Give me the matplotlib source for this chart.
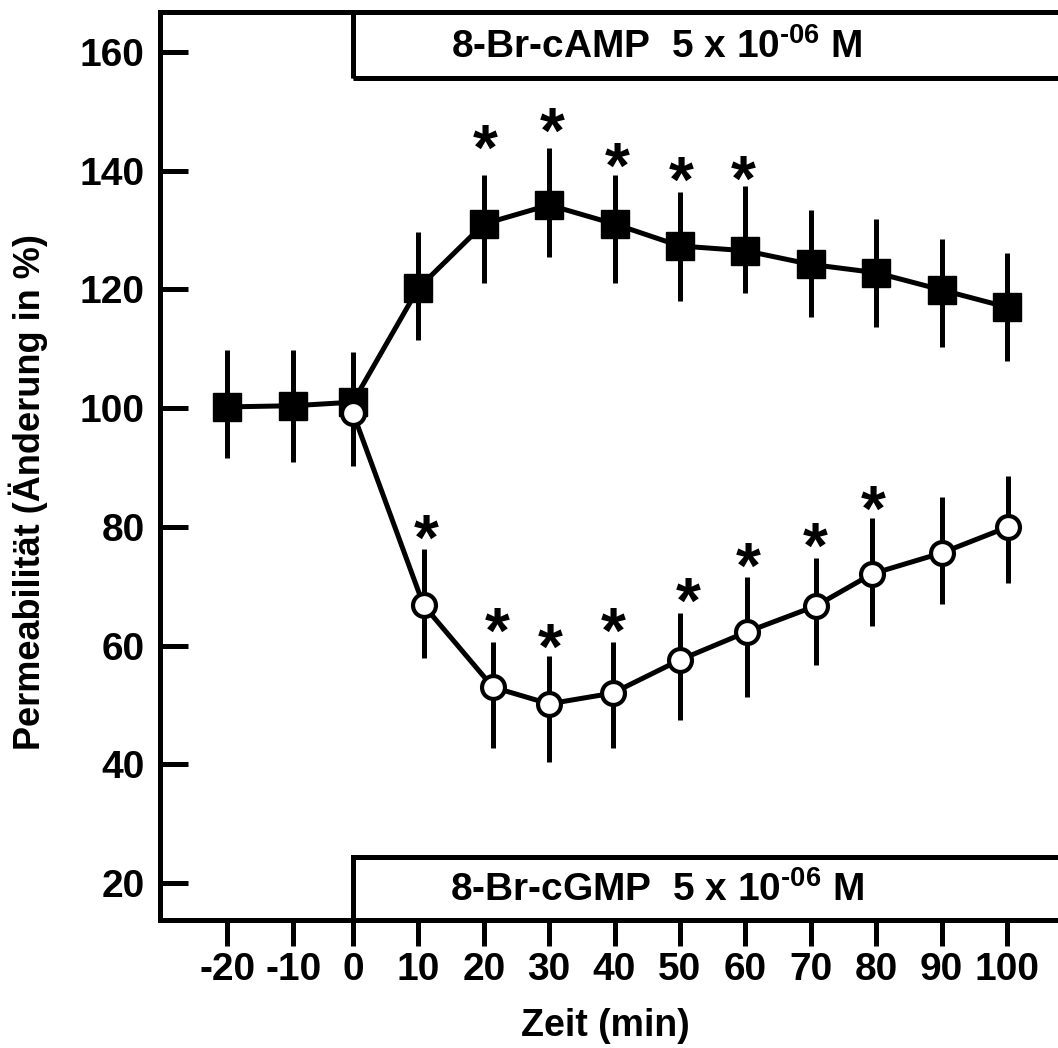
import matplotlib
matplotlib.use("Agg")
import matplotlib.pyplot as plt
from matplotlib.patches import Rectangle

plt.rcParams['font.family'] = ['Liberation Sans', 'DejaVu Sans']
plt.rcParams['font.weight'] = 'bold'
plt.rcParams['mathtext.fontset'] = 'custom'
plt.rcParams['mathtext.rm'] = 'Liberation Sans:bold'
plt.rcParams['mathtext.bf'] = 'Liberation Sans:bold'
plt.rcParams['mathtext.default'] = 'bf'

# 8-Br-cAMP (filled squares)
camp_x = [-19.2, -9.1, 0, 10, 20, 30, 40, 50, 60, 70, 80, 90, 100]
camp_y = [100.2, 100.4, 101.0, 120.2, 131.0, 134.2, 131.0, 127.3, 126.5, 124.2, 122.8, 119.9, 117.0]
camp_lo = [8.6, 9.5, 9.6, 8.7, 10.0, 8.7, 10.0, 9.3, 7.1, 8.8, 9.1, 9.6, 9.0]
camp_hi = [9.6, 9.4, 8.5, 9.5, 8.3, 9.6, 8.3, 9.1, 10.9, 9.2, 9.1, 8.6, 9.1]

# 8-Br-cGMP (open circles)
cgmp_x = [0, 10.8, 21.4, 30, 39.7, 50, 60.2, 70.8, 79.4, 90, 100.2]
cgmp_y = [99.2, 66.8, 53.0, 50.2, 52.0, 57.6, 62.3, 66.7, 72.1, 75.6, 80.0]
cgmp_lo = [9.0, 8.8, 10.3, 9.8, 9.3, 10.1, 11.0, 10.0, 8.8, 8.6, 9.5]
cgmp_hi = [9.0, 9.5, 7.6, 8.0, 8.6, 7.9, 9.3, 8.1, 9.4, 9.4, 8.6]

# significance stars
star_x = [20.2, 30.4, 40.4, 50.2, 59.7, 11.2, 22.0, 30.2, 39.8, 51.2, 60.5, 70.7, 79.6]
star_y = [145.2, 148.2, 142.3, 139.9, 140.1, 79.5, 64.0, 61.3, 64.0, 68.9, 74.9, 78.3, 84.5]

xticks = [-19.2, -9.1, 0, 10, 20, 30, 40, 50, 60, 70, 80, 90, 100]
xticklabels = ["-20", "-10", "0", "10", "20", "30", "40", "50", "60", "70", "80", "90", "100"]
yticks = [20, 40, 60, 80, 100, 120, 140, 160]

fig = plt.figure(figsize=(10.58, 10.48), dpi=100)
ax = fig.add_axes([160 / 1058, 128 / 1048, 1 - 160 / 1058, 908 / 1048])
ax.set_xlim(-29.5, 107.8)
ax.set_ylim(13.8, 166.7)

lw = 3.6
# treatment boxes
ax.add_patch(Rectangle((0, 155.6), 150, 30, fill=False, ec='black', lw=lw, clip_on=True))
ax.add_patch(Rectangle((0, 0), 150, 24.4, fill=False, ec='black', lw=lw, clip_on=True))
ax.text(0.553, 0.962, r"8-Br-cAMP  5 x 10$^{\text{-06}}$ M", transform=ax.transAxes,
        ha='center', va='center', fontsize=28, fontweight='bold')
ax.text(0.553, 0.033, r"8-Br-cGMP  5 x 10$^{\text{-06}}$ M", transform=ax.transAxes,
        ha='center', va='center', fontsize=28, fontweight='bold')

ax.errorbar(camp_x, camp_y, yerr=[camp_lo, camp_hi], fmt='s-', color='black',
            ms=19.5, mfc='black', mec='black', lw=lw, elinewidth=lw, capsize=0, zorder=3)
ax.errorbar(cgmp_x, cgmp_y, yerr=[cgmp_lo, cgmp_hi], fmt='o-', color='black',
            ms=16.5, mfc='white', mec='black', mew=3.0, lw=lw, elinewidth=lw, capsize=0, zorder=4)

star_fs = 46
for sx, sy in zip(star_x, star_y):
    ax.annotate("*", (sx, sy), xytext=(0, -0.33 * star_fs + 5.5), textcoords='offset points',
                ha='center', va='center', fontsize=star_fs, fontweight='bold')

for side in ['left', 'bottom', 'top']:
    ax.spines[side].set_linewidth(lw)
ax.spines['right'].set_visible(False)

ax.set_xticks(xticks)
ax.set_xticklabels(xticklabels)
ax.set_yticks(yticks)
ax.tick_params(axis='x', direction='out', length=19, width=lw, labelsize=28, pad=4)
ax.tick_params(axis='y', direction='in', length=20, width=lw, labelsize=28, pad=11)

ax.set_xlabel("Zeit (min)", fontsize=27, fontweight='bold')
ax.xaxis.set_label_coords(0.496, -0.097)
ax.set_ylabel("Permeabilität (Änderung in %)", fontsize=26, fontweight='bold')
ax.yaxis.set_label_coords(-0.125, 0.471)

fig.savefig("out.png", dpi=100)
